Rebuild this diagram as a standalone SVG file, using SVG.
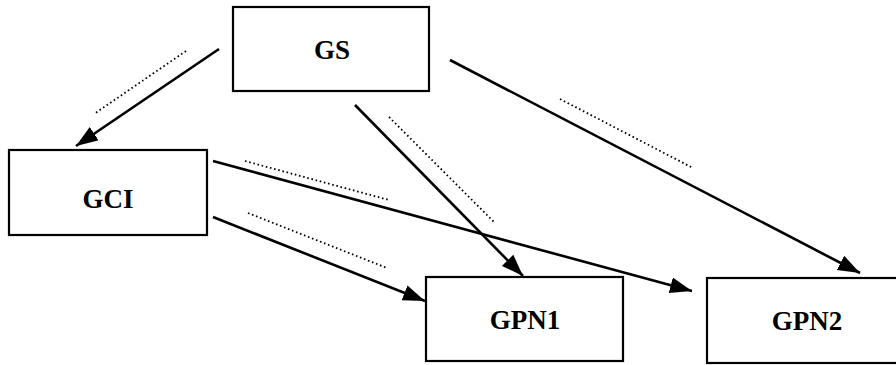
<svg xmlns="http://www.w3.org/2000/svg" width="896" height="365" viewBox="0 0 896 365">
<style>
.box{fill:#fff;stroke:#000;stroke-width:2.2}
.lbl{font-family:"Liberation Serif","Times New Roman",serif;font-weight:bold;font-size:27px;fill:#000;text-anchor:middle}
.arr{stroke:#000;stroke-width:2.6;fill:none;marker-end:url(#ah)}
.dot{stroke:#000;stroke-width:1.8;fill:none;stroke-dasharray:1.6 2.7}
</style>
<defs>
<marker id="ah" markerUnits="userSpaceOnUse" markerWidth="24" markerHeight="18" refX="22" refY="8" orient="auto">
<path d="M0,0 L22,8 L0,16 Z" fill="#000"/>
</marker>
</defs>
<rect width="896" height="365" fill="#fff"/>
<g id="connectors">
<line class="arr" x1="219" y1="49" x2="76" y2="146"/>
<line class="arr" x1="355" y1="105" x2="523" y2="276"/>
<line class="arr" x1="450" y1="60" x2="860" y2="273"/>
<line class="arr" x1="213" y1="161" x2="692" y2="291"/>
<line class="arr" x1="213" y1="217" x2="425" y2="301"/>
<line class="dot" x1="186" y1="51" x2="94" y2="114"/>
<line class="dot" x1="389" y1="117" x2="495" y2="223"/>
<line class="dot" x1="560" y1="99" x2="693" y2="168"/>
<line class="dot" x1="245" y1="161" x2="389" y2="200"/>
<line class="dot" x1="248" y1="213" x2="387" y2="268"/>
</g>
<g id="GS">
<rect class="box" x="233" y="7" width="196" height="84"/>
<text class="lbl" x="332" y="59">GS</text>
</g>
<g id="GCI">
<rect class="box" x="9" y="150" width="198" height="85"/>
<text class="lbl" x="108" y="208">GCI</text>
</g>
<g id="GPN1">
<rect class="box" x="426" y="277" width="197" height="84"/>
<text class="lbl" x="525" y="329">GPN1</text>
</g>
<g id="GPN2">
<rect class="box" x="707" y="278" width="200" height="85"/>
<text class="lbl" x="807" y="330">GPN2</text>
</g>
</svg>
